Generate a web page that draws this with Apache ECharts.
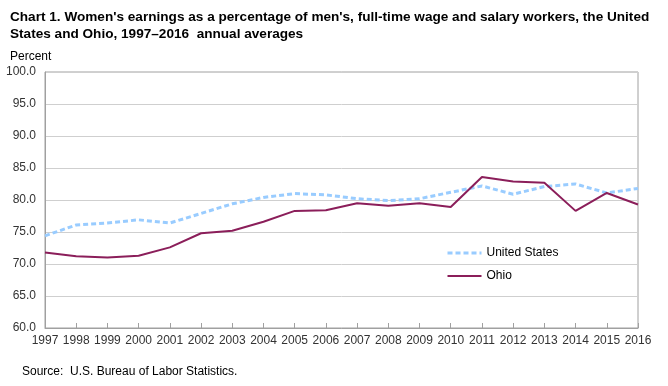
<!DOCTYPE html>
<html><head><meta charset="utf-8">
<script src="https://cdn.jsdelivr.net/npm/echarts@6/dist/echarts.min.js"></script>
<style>html,body{margin:0;padding:0;background:#fff}#c{width:668px;height:386px}</style>
</head><body><div id="c"></div>
<script>
const years = ['1997','1998','1999','2000','2001','2002','2003','2004','2005','2006','2007','2008','2009','2010','2011','2012','2013','2014','2015','2016'];
const unitedStates = [74.4,76.1,76.4,76.9,76.4,77.9,79.4,80.4,81.0,80.8,80.2,79.9,80.2,81.2,82.2,80.9,82.1,82.5,81.1,81.8];
const ohio = [71.8,71.2,71.0,71.3,72.6,74.8,75.2,76.6,78.3,78.4,79.5,79.1,79.5,78.9,83.6,82.9,82.7,78.3,81.1,79.3];
const yTicks = {min:60, max:100, interval:5};

const chart = echarts.init(document.getElementById('c'), null, {renderer:'canvas'});
const font = 'Arial, "Liberation Sans", sans-serif';
const usStyle = {color:'#99ccff', width:3, type:[5,3]};
const ohStyle = {color:'#8b1e5a', width:2, type:'solid'};
chart.setOption({
  animation:false,
  backgroundColor:'#fff',
  title:[{
    text:"Chart 1. Women's earnings as a percentage of men's, full-time wage and salary workers, the United\nStates and Ohio, 1997\u20132016  annual averages",
    left:5, top:4,
    textStyle:{fontFamily:font, fontSize:13.6, fontWeight:'bold', color:'#000', lineHeight:17}
  },{
    text:'Percent', left:5, top:46,
    textStyle:{fontFamily:font, fontSize:12, fontWeight:'normal', color:'#000'}
  },{
    text:'Source:  U.S. Bureau of Labor Statistics.', left:17, top:361,
    textStyle:{fontFamily:font, fontSize:12, fontWeight:'normal', color:'#000'}
  }],
  grid:{left:45, right:30, top:72, bottom:58, show:true, borderColor:'#a0a0a0', borderWidth:1},
  legend:{
    orient:'vertical', left:441, top:242, itemWidth:34, itemHeight:12, itemGap:11,
    itemStyle:{color:'rgba(0,0,0,0)', borderWidth:0, opacity:0},
    textStyle:{fontFamily:font, fontSize:12, color:'#000'},
    data:[{name:'United States', lineStyle:usStyle},{name:'Ohio', lineStyle:ohStyle}]
  },
  xAxis:{
    type:'category', data:years, boundaryGap:false,
    axisLine:{lineStyle:{color:'#a0a0a0'}},
    axisTick:{inside:true, length:5, interval:0, lineStyle:{color:'#a0a0a0'}},
    axisLabel:{fontFamily:font, fontSize:12, color:'#333', margin:7, interval:0},
    splitLine:{show:false}
  },
  yAxis:{
    type:'value', min:yTicks.min, max:yTicks.max, interval:yTicks.interval,
    axisLine:{show:true, lineStyle:{color:'#a0a0a0'}},
    axisTick:{show:false},
    axisLabel:{fontFamily:font, fontSize:12, color:'#333', margin:9, formatter:v=>v.toFixed(1)},
    splitLine:{lineStyle:{color:'#cfcfcf', width:1}}
  },
  series:[{
    name:'United States', type:'line', data:unitedStates, symbol:'none',
    lineStyle:usStyle, itemStyle:{color:'#99ccff'}
  },{
    name:'Ohio', type:'line', data:ohio, symbol:'none',
    lineStyle:ohStyle, itemStyle:{color:'#8b1e5a'}
  }]
});
</script></body></html>
